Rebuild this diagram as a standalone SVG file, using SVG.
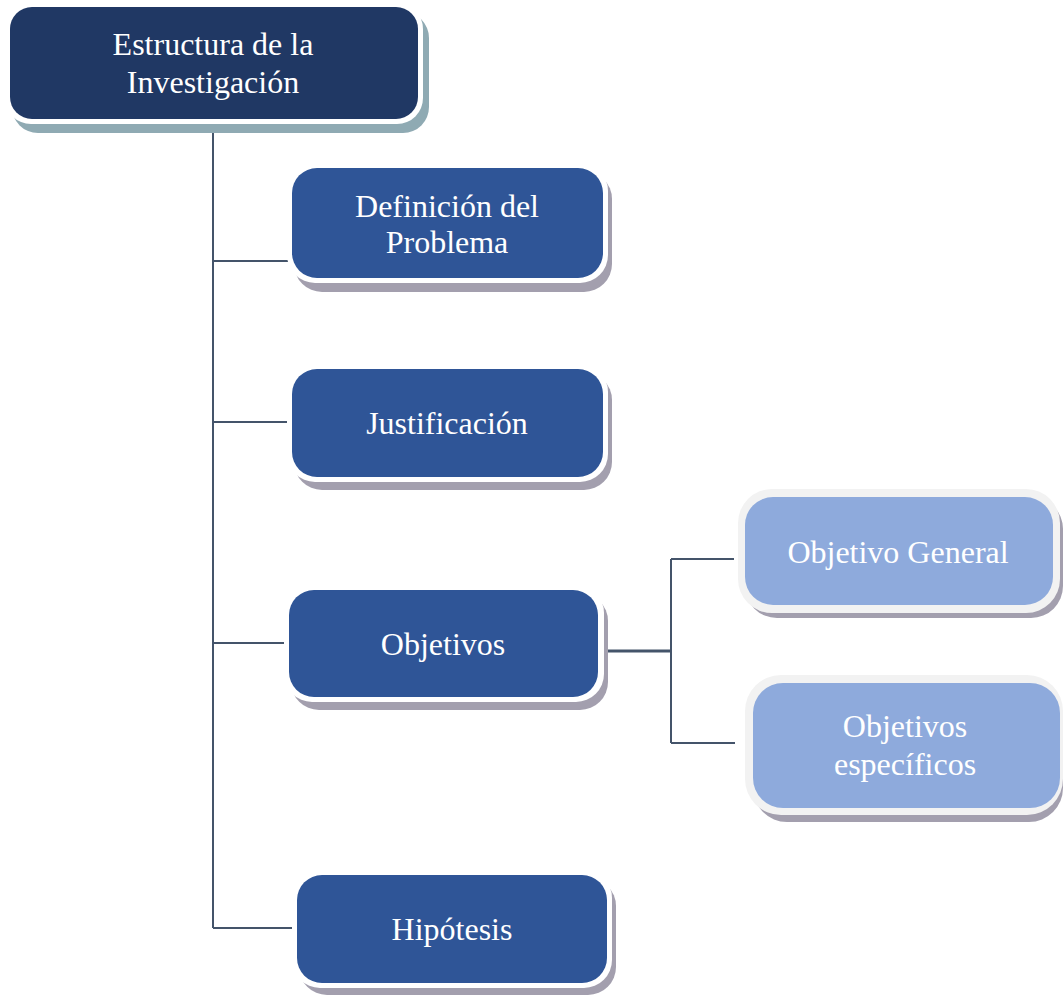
<svg xmlns="http://www.w3.org/2000/svg" width="1063" height="996" viewBox="0 0 1063 996">
<style>
.t{font-family:"Liberation Serif","Times New Roman",serif;font-size:32px;fill:#ffffff;text-anchor:middle}
.sh{fill:#a39fae}
.sht{fill:#8faab3}
.bd{fill:#ffffff}
.bdl{fill:#f2f2f2}
.dk{fill:#203864}
.md{fill:#2f5597}
.lt{fill:#8eaadc}
.c{stroke:#44546a;stroke-width:2;fill:none}
</style>
<rect width="1063" height="996" fill="#ffffff"/>
<g id="connectors">
<path class="c" d="M213 125V928M213 261H290M213 422H292M213 643H289M213 928H297"/>
<path class="c" d="M671 559V743M671 559H734M671 743H735"/>
<path stroke="#44546a" stroke-width="3" fill="none" d="M607 651H672"/>
</g>
<g id="n-estructura">
<rect class="sht" x="12" y="12" width="417" height="121" rx="26"/>
<rect class="bd" x="5" y="3" width="418" height="121" rx="26"/>
<rect class="dk" x="10" y="7" width="408" height="112" rx="22"/>
<text class="t" x="213" y="55">Estructura de la</text>
<text class="t" x="213" y="93">Investigación</text>
</g>
<g id="n-definicion">
<rect class="sh" x="294" y="171" width="318" height="121" rx="28"/>
<rect class="bd" x="287" y="163" width="321" height="120" rx="28"/>
<rect class="md" x="292" y="168" width="311" height="110" rx="25"/>
<text class="t" x="447" y="217">Definición del</text>
<text class="t" x="447" y="253">Problema</text>
</g>
<g id="n-justificacion">
<rect class="sh" x="294" y="372" width="318" height="118" rx="28"/>
<rect class="bd" x="287" y="364" width="321" height="118" rx="28"/>
<rect class="md" x="292" y="369" width="311" height="108" rx="25"/>
<text class="t" x="447" y="434">Justificación</text>
</g>
<g id="n-objetivos">
<rect class="sh" x="291" y="593" width="317" height="117" rx="28"/>
<rect class="bd" x="284" y="585" width="320" height="117" rx="28"/>
<rect class="md" x="289" y="590" width="309" height="107" rx="25"/>
<text class="t" x="443" y="655">Objetivos</text>
</g>
<g id="n-hipotesis">
<rect class="sh" x="299" y="878" width="317" height="117" rx="28"/>
<rect class="bd" x="292" y="870" width="320" height="118" rx="28"/>
<rect class="md" x="297" y="875" width="310" height="108" rx="25"/>
<text class="t" x="452" y="940">Hipótesis</text>
</g>
<g id="n-general">
<rect class="sh" x="745" y="497" width="318" height="121" rx="32"/>
<rect class="bdl" x="738" y="489" width="322" height="124" rx="34"/>
<rect class="lt" x="745" y="497" width="308" height="108" rx="28"/>
<text class="t" x="898" y="563">Objetivo General</text>
</g>
<g id="n-especificos">
<rect class="sh" x="753" y="684" width="310" height="138" rx="34"/>
<rect class="bdl" x="745" y="675" width="318" height="140" rx="36"/>
<rect class="lt" x="753" y="683" width="307" height="125" rx="30"/>
<text class="t" x="905" y="737">Objetivos</text>
<text class="t" x="905" y="775">específicos</text>
</g>
</svg>
